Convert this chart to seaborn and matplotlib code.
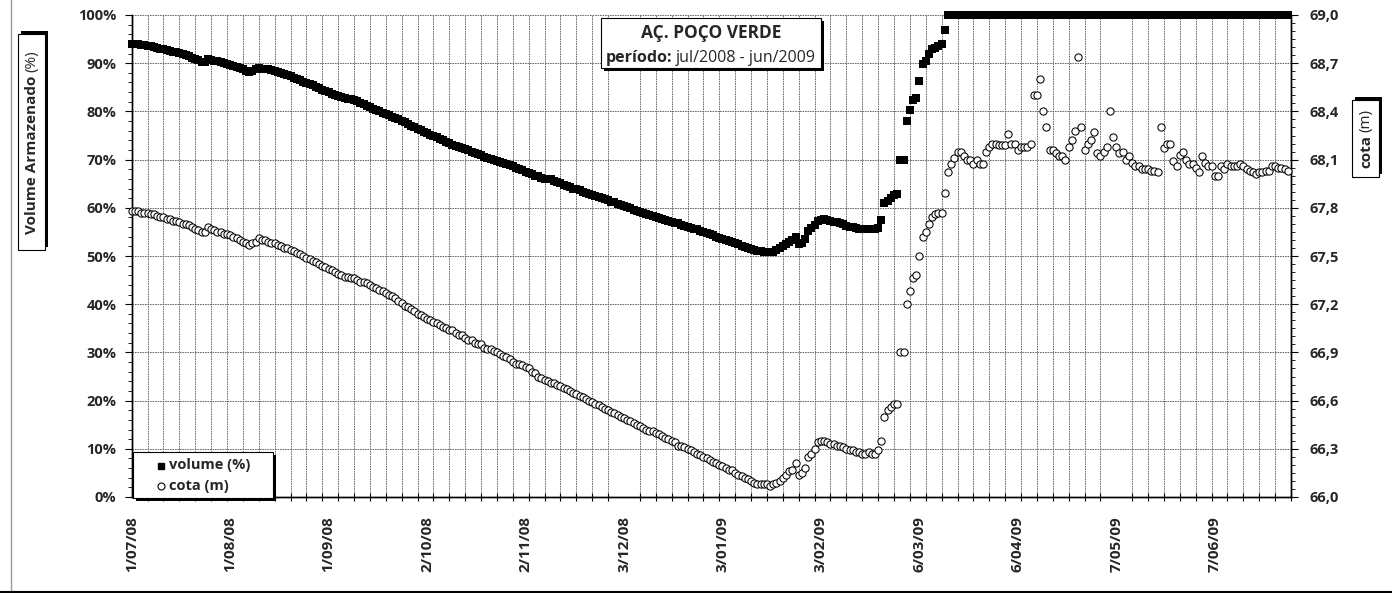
import datetime as dt
import matplotlib
matplotlib.use('Agg')
import matplotlib.pyplot as plt
import matplotlib.ticker as mticker
import matplotlib.dates as mdates
from matplotlib.patches import Rectangle
from matplotlib.lines import Line2D
from matplotlib import font_manager
import pandas as pd
import seaborn as sns

# ---- dados (leituras diarias a partir de 1/07/2008) ----
inicio = '2008-07-01'
fim = '2009-07-01'

# volume armazenado (%)
volume = [
    94.0, 93.9, 93.9, 93.8, 93.7, 93.6, 93.5, 93.3, 93.2, 93.0,
    92.9, 92.7, 92.6, 92.4, 92.3, 92.1, 91.9, 91.6, 91.4, 91.1,
    90.8, 90.6, 90.3, 90.3, 90.9, 90.7, 90.5, 90.4, 90.2, 90.1,
    89.9, 89.7, 89.5, 89.3, 89.0, 88.7, 88.4, 88.1, 88.3, 88.7,
    89.0, 88.9, 88.8, 88.7, 88.5, 88.4, 88.2, 88.0, 87.8, 87.6,
    87.3, 87.0, 86.8, 86.5, 86.2, 85.9, 85.6, 85.4, 85.1, 84.8,
    84.5, 84.3, 84.0, 83.7, 83.5, 83.2, 83.0, 82.8, 82.6, 82.5,
    82.4, 82.1, 81.8, 81.5, 81.2, 80.9, 80.6, 80.3, 80.0, 79.7,
    79.4, 79.2, 78.9, 78.7, 78.4, 78.0, 77.7, 77.3, 77.0, 76.7,
    76.4, 76.1, 75.8, 75.5, 75.2, 74.9, 74.6, 74.3, 74.0, 73.7,
    73.4, 73.1, 72.9, 72.6, 72.4, 72.1, 71.9, 71.6, 71.4, 71.1,
    70.9, 70.6, 70.4, 70.2, 70.0, 69.8, 69.5, 69.3, 69.1, 68.9,
    68.6, 68.3, 68.0, 67.8, 67.5, 67.2, 67.0, 66.7, 66.5, 66.2,
    66.0, 66.0, 65.9, 65.6, 65.3, 65.1, 64.8, 64.5, 64.3, 64.0,
    63.8, 63.6, 63.3, 63.1, 62.9, 62.7, 62.5, 62.3, 62.0, 61.8,
    61.6, 61.3, 61.1, 60.8, 60.6, 60.3, 60.1, 59.9, 59.6, 59.4,
    59.2, 59.0, 58.7, 58.5, 58.3, 58.1, 57.8, 57.6, 57.4, 57.2,
    57.1, 56.9, 56.8, 56.5, 56.3, 56.1, 55.9, 55.7, 55.5, 55.2,
    55.0, 54.8, 54.5, 54.3, 54.0, 53.8, 53.6, 53.4, 53.1, 52.9,
    52.6, 52.4, 52.1, 51.9, 51.7, 51.5, 51.3, 51.1, 51.0, 50.9,
    50.8, 50.8, 50.9, 51.2, 51.6, 52.0, 52.5, 52.9, 53.4, 54.0,
    52.4, 52.7, 53.6, 55.2, 55.8, 56.5, 57.2, 57.5, 57.6, 57.5,
    57.3, 57.1, 57.0, 56.8, 56.6, 56.3, 56.1, 56.0, 55.8, 55.7,
    55.6, 55.6, 55.5, 55.5, 55.7, 55.9, 57.4, 60.9, 61.5, 62.0,
    62.6, 62.8, 70.0, 70.0, 78.0, 80.2, 82.4, 82.8, 86.3, 89.8,
    90.4, 92.0, 92.9, 93.2, 93.5, 93.9, 96.8, 100, 100, 100,
    100, 100, 100, 100, 100, 100, 100, 100, 100, 100,
    100, 100, 100, 100, 100, 100, 100, 100, 100, 100,
    100, 100, 100, 100, 100, 100, 100, 100, 100, 100,
    100, 100, 100, 100, 100, 100, 100, 100, 100, 100,
    100, 100, 100, 100, 100, 100, 100, 100, 100, 100,
    100, 100, 100, 100, 100, 100, 100, 100, 100, 100,
    100, 100, 100, 100, 100, 100, 100, 100, 100, 100,
    100, 100, 100, 100, 100, 100, 100, 100, 100, 100,
    100, 100, 100, 100, 100, 100, 100, 100, 100, 100,
    100, 100, 100, 100, 100, 100, 100, 100, 100, 100,
    100, 100, 100, 100, 100,
]

# cota do espelho d'agua (m)
cota = [
    67.78, 67.78, 67.78, 67.77, 67.77, 67.77, 67.76, 67.76, 67.75, 67.74,
    67.74, 67.73, 67.73, 67.72, 67.72, 67.71, 67.70, 67.70, 67.69, 67.68,
    67.67, 67.66, 67.65, 67.65, 67.68, 67.67, 67.66, 67.65, 67.65, 67.64,
    67.64, 67.63, 67.62, 67.61, 67.60, 67.59, 67.58, 67.57, 67.58, 67.59,
    67.61, 67.60, 67.60, 67.59, 67.58, 67.58, 67.57, 67.56, 67.55, 67.55,
    67.54, 67.53, 67.52, 67.51, 67.50, 67.49, 67.48, 67.47, 67.46, 67.45,
    67.44, 67.43, 67.42, 67.41, 67.40, 67.39, 67.38, 67.37, 67.37, 67.36,
    67.36, 67.35, 67.34, 67.34, 67.33, 67.32, 67.31, 67.30, 67.29, 67.28,
    67.27, 67.26, 67.25, 67.24, 67.22, 67.21, 67.19, 67.18, 67.17, 67.16,
    67.14, 67.13, 67.12, 67.11, 67.10, 67.09, 67.08, 67.07, 67.06, 67.05,
    67.04, 67.04, 67.02, 67.01, 67.01, 66.99, 66.98, 66.98, 66.96, 66.95,
    66.95, 66.93, 66.92, 66.92, 66.91, 66.90, 66.89, 66.88, 66.87, 66.86,
    66.84, 66.83, 66.83, 66.82, 66.81, 66.80, 66.78, 66.77, 66.75, 66.74,
    66.73, 66.72, 66.71, 66.71, 66.70, 66.69, 66.68, 66.67, 66.66, 66.65,
    66.64, 66.63, 66.62, 66.61, 66.60, 66.59, 66.58, 66.57, 66.56, 66.55,
    66.54, 66.53, 66.52, 66.51, 66.50, 66.49, 66.48, 66.47, 66.46, 66.45,
    66.44, 66.43, 66.42, 66.41, 66.41, 66.40, 66.39, 66.38, 66.37, 66.36,
    66.35, 66.34, 66.32, 66.32, 66.31, 66.30, 66.29, 66.28, 66.27, 66.26,
    66.25, 66.24, 66.23, 66.22, 66.21, 66.20, 66.19, 66.18, 66.17, 66.17,
    66.15, 66.14, 66.13, 66.12, 66.11, 66.10, 66.09, 66.08, 66.08, 66.08,
    66.08, 66.07, 66.08, 66.09, 66.10, 66.12, 66.14, 66.16, 66.17, 66.21,
    66.14, 66.15, 66.18, 66.25, 66.27, 66.30, 66.34, 66.35, 66.35, 66.34,
    66.33, 66.33, 66.32, 66.32, 66.31, 66.30, 66.29, 66.29, 66.28, 66.28,
    66.27, 66.27, 66.28, 66.27, 66.27, 66.29, 66.35, 66.50, 66.54, 66.56,
    66.58, 66.58, 66.90, 66.90, 67.20, 67.28, 67.36, 67.38, 67.50, 67.62,
    67.65, 67.70, 67.74, 67.76, 67.77, 67.77, 67.89, 68.02, 68.07, 68.11,
    68.15, 68.15, 68.12, 68.10, 68.10, 68.07, 68.10, 68.07, 68.07, 68.15,
    68.18, 68.20, 68.20, 68.19, 68.19, 68.19, 68.26, 68.20, 68.20, 68.16,
    68.18, 68.18, 68.18, 68.20, 68.50, 68.50, 68.60, 68.40, 68.30, 68.16,
    68.16, 68.14, 68.12, 68.12, 68.10, 68.18, 68.22, 68.28, 68.74, 68.30,
    68.16, 68.20, 68.22, 68.27, 68.14, 68.12, 68.15, 68.18, 68.40, 68.24,
    68.18, 68.14, 68.15, 68.10, 68.12, 68.08, 68.06, 68.06, 68.04, 68.04,
    68.04, 68.03, 68.03, 68.02, 68.30, 68.17, 68.20, 68.20, 68.09, 68.06,
    68.13, 68.15, 68.10, 68.07, 68.07, 68.05, 68.02, 68.12, 68.08, 68.06,
    68.06, 68.00, 68.00, 68.06, 68.04, 68.07, 68.06, 68.06, 68.06, 68.07,
    68.06, 68.04, 68.03, 68.02, 68.01, 68.02, 68.02, 68.03, 68.03, 68.06,
    68.06, 68.05, 68.05, 68.04, 68.03,
]

rotulos_x = ['1/07/08', '1/08/08', '1/09/08', '2/10/08', '2/11/08', '3/12/08',
             '3/01/09', '3/02/09', '6/03/09', '6/04/09', '7/05/09', '7/06/09']
titulo = 'AÇ. POÇO VERDE'
periodo = 'jul/2008 - jun/2009'

# ---- estilo ----
sns.set_style('ticks')
nomes = {f.name for f in font_manager.fontManager.ttflist}
fonte = 'Liberation Sans Narrow' if 'Liberation Sans Narrow' in nomes else 'Open Sans'
plt.rcParams['font.family'] = [fonte, 'DejaVu Sans']

W, H = 1392, 593
fig = plt.figure(figsize=(W / 100, H / 100), dpi=100)
x0, x1, y_top, y_bot = 131.7, 1291.0, 15.0, 497.0
ax = fig.add_axes([x0 / W, 1 - y_bot / H, (x1 - x0) / W, (y_bot - y_top) / H])
ax2 = ax.twinx()

datas_vol = pd.date_range(inicio, periods=len(volume), freq='D')
datas_cota = pd.date_range(inicio, periods=len(cota), freq='D')

sns.scatterplot(x=datas_vol, y=volume, ax=ax, marker='s', color='black',
                edgecolor='black', linewidth=0, s=28, clip_on=False, zorder=3, legend=False)
sns.scatterplot(x=datas_cota, y=cota, ax=ax2, marker='o', color='white',
                edgecolor='black', linewidth=0.75, s=27, clip_on=False, zorder=3, legend=False)

# eixo x
ax.set_xlim(pd.Timestamp(inicio), pd.Timestamp(fim))
pos_rot = [dt.datetime.strptime(r, '%d/%m/%y') for r in rotulos_x]
ax.set_xticks(pos_rot)
ax.set_xticklabels(rotulos_x, rotation=90, fontsize=11, fontweight='bold')
ax.xaxis.set_minor_locator(mticker.FixedLocator(
    mdates.date2num(pd.date_range(inicio, fim, freq='5D'))))
ax.tick_params(axis='x', which='major', length=0, pad=14)
ax.tick_params(axis='x', which='minor', direction='inout', length=6, width=0.8, color='black')

# eixo y esquerdo (volume)
ax.set_ylim(0, 100)
ax.yaxis.set_major_locator(mticker.MultipleLocator(10))
ax.yaxis.set_minor_locator(mticker.MultipleLocator(2))
ax.yaxis.set_major_formatter(mticker.FuncFormatter(lambda v, _: f'{v:.0f}%'))
ax.tick_params(axis='y', which='major', direction='out', length=5, width=0.8, pad=6,
               labelsize=10.5, color='black')
ax.tick_params(axis='y', which='minor', direction='out', length=3, width=0.6, color='black')
for t in ax.get_yticklabels():
    t.set_fontweight('bold')

# eixo y direito (cota)
ax2.set_ylim(66.0, 69.0)
ax2.yaxis.set_major_locator(mticker.MultipleLocator(0.3))
ax2.yaxis.set_minor_locator(mticker.MultipleLocator(0.05))
ax2.yaxis.set_major_formatter(mticker.FuncFormatter(lambda v, _: f'{v:.1f}'.replace('.', ',')))
ax2.tick_params(axis='y', which='major', direction='out', length=5, width=0.8, pad=8,
                labelsize=10.5, color='black')
ax2.tick_params(axis='y', which='minor', direction='out', length=3, width=0.6, color='black')
for t in ax2.get_yticklabels():
    t.set_fontweight('bold')

# grades
ax.grid(which='major', axis='y', color='#555555', linestyle=(0, (2, 1)), linewidth=0.6)
ax.grid(which='minor', axis='x', color='#5a5a5a', linestyle=(0, (2, 1)), linewidth=0.6)
ax.grid(which='major', axis='x', visible=False)
for a in (ax, ax2):
    for lado in ('left', 'right', 'bottom'):
        a.spines[lado].set_visible(True)
        a.spines[lado].set_color('black')
        a.spines[lado].set_linewidth(1.0)
    a.spines['top'].set_visible(False)
ax.set_xlabel('')
ax.set_ylabel('')
ax2.set_ylabel('')

# ---- caixas de texto (coordenadas em pixels) ----
ov = fig.add_axes([0, 0, 1, 1], zorder=10)
ov.set_xlim(0, W)
ov.set_ylim(H, 0)
ov.axis('off')
ov.patch.set_visible(False)


def caixa(xa, ya, xb, yb, dx, dy):
    ov.add_patch(Rectangle((xa + dx, ya + dy), xb - xa, yb - ya, facecolor='black',
                           edgecolor='black', lw=0))
    ov.add_patch(Rectangle((xa, ya), xb - xa, yb - ya, facecolor='white',
                           edgecolor='black', lw=0.8))


rend = fig.canvas.get_renderer()

# titulo
caixa(600.7, 18.3, 820.7, 68.3, 3, 3)
ov.text(710.7, 38.5, titulo, ha='center', va='baseline', fontsize=12.5, fontweight='bold')
t1 = ov.text(0, 62.5, 'período:', ha='left', va='baseline', fontsize=11.5, fontweight='bold')
t2 = ov.text(0, 62.5, periodo, ha='left', va='baseline', fontsize=11.5)
w1 = t1.get_window_extent(rend).width
w2 = t2.get_window_extent(rend).width
xs = 710.7 - (w1 + 3 + w2) / 2
t1.set_x(xs)
t2.set_x(xs + w1 + 3)

# legenda
caixa(133.3, 452.3, 272.7, 498.0, 3, 3)
ov.plot([161], [465.5], marker='s', color='black', markersize=4.5, linestyle='none')
ov.plot([161], [486], marker='o', markerfacecolor='white', markeredgecolor='black',
        markersize=5, markeredgewidth=0.8, linestyle='none')
ov.text(169, 465.5, 'volume (%)', ha='left', va='center', fontsize=10.5, fontweight='bold')
ov.text(169, 486, 'cota (m)', ha='left', va='center', fontsize=10.5, fontweight='bold')

# rotulos dos eixos y
caixa(18.3, 34.3, 45.0, 250.0, 3, -3)
a1 = ov.text(32, 0, 'Volume Armazenado', rotation=90, ha='center', va='bottom',
             fontsize=11, fontweight='bold')
a2 = ov.text(32, 0, '(%)', rotation=90, ha='center', va='bottom', fontsize=11)
h1 = a1.get_window_extent(rend).height
h2 = a2.get_window_extent(rend).height
yc = (34.3 + 250.0) / 2 + (h1 + 3 + h2) / 2
a1.set_y(yc)
a2.set_y(yc - h1 - 3)

caixa(1352.0, 100.0, 1379.0, 177.0, 3, -3)
b1 = ov.text(1366, 0, 'cota', rotation=90, ha='center', va='bottom',
             fontsize=11, fontweight='bold')
b2 = ov.text(1366, 0, '(m)', rotation=90, ha='center', va='bottom', fontsize=11)
g1 = b1.get_window_extent(rend).height
g2 = b2.get_window_extent(rend).height
yc = (100.0 + 177.0) / 2 + (g1 + 3 + g2) / 2
b1.set_y(yc)
b2.set_y(yc - g1 - 3)

# bordas do quadro
fig.add_artist(Line2D([10.5 / W, 10.5 / W], [0, 1], color='#9a9a9a', lw=1.0))
fig.add_artist(Line2D([0, 1], [1 - 591.5 / H, 1 - 591.5 / H], color='black', lw=1.5))

fig.savefig('out.png', dpi=100)
